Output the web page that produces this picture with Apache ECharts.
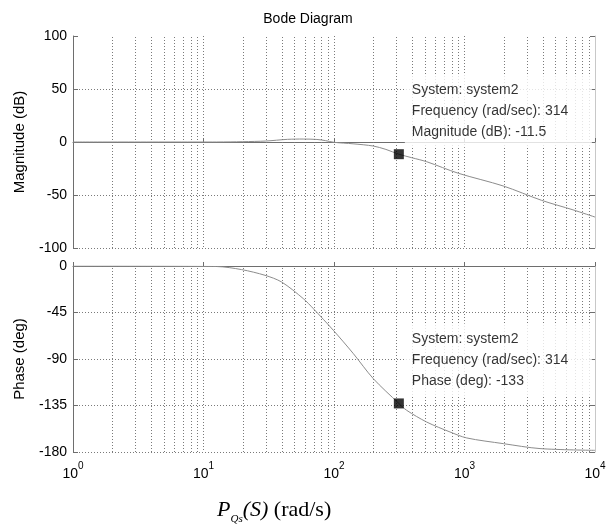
<!DOCTYPE html>
<html>
<head>
<meta charset="utf-8">
<script src="https://cdn.jsdelivr.net/npm/echarts@6/dist/echarts.min.js"></script>
<style>
  html, body { margin: 0; padding: 0; background: #fff; }
  #chart { width: 616px; height: 526px; }
</style>
</head>
<body>
<div id="chart"></div>
<script>
// values
const magFreq = [1, 12.6, 16, 20, 30, 44, 58, 74, 86, 100, 140, 200, 250, 314, 394, 513, 897, 1983, 3890, 6780, 10000];
const magDb = [0, 0, 0.1, 0.3, 0.9, 2.5, 2.8, 2.4, 1.3, -0.3, -1.7, -3.8, -7, -11.5, -14.8, -18.6, -29.5, -41.5, -55, -64, -70.8];
const phaseFreq = [1, 12.6, 19.6, 29.6, 39.7, 58.2, 69.5, 98.8, 140.7, 200, 314, 360, 513, 774, 1040, 1983, 3790, 10000];
const phaseDeg = [0, -0.5, -3.5, -9, -15.5, -31.6, -41.3, -62.2, -84.8, -109, -133, -139.6, -151, -160.6, -166.4, -171.9, -176.7, -178.4];

const tipFreq = 314;
const tipMag = -11.5;
const tipPhase = -133;

const decades = [1, 10, 100, 1000, 10000];
const minorSteps = [2, 3, 4, 5, 6, 7, 8, 9];
const magTicks = [-100, -50, 0, 50, 100];
const phaseTicks = [-180, -135, -90, -45, 0];

const minorLines = decades.slice(0, -1).flatMap(d => minorSteps.map(k => ({ xAxis: k * d })));

const sans = 'Liberation Sans';
const serif = 'Liberation Serif';
const txt = '#000';
const axisCol = '#6e6e6e';
const gridCol = '#7a7a7a';
const curveCol = '#8c8c8c';
const dots = [1, 2];

function xAxisCfg (grid, showLabels) {
  return {
    type: 'log',
    logBase: 10,
    gridIndex: grid,
    min: decades[0],
    max: decades[decades.length - 1],
    axisLine: { show: true, lineStyle: { color: axisCol, width: 1 } },
    axisTick: { show: true, inside: true, length: 4, lineStyle: { color: axisCol } },
    splitLine: { show: true, lineStyle: { color: gridCol, type: dots, width: 1 } },
    axisLabel: {
      show: showLabels,
      margin: 9,
      showMinLabel: true,
      showMaxLabel: true,
      formatter: v => '{b|10}{e|' + Math.round(Math.log10(v)) + '}',
      rich: {
        b: { fontSize: 14, fontFamily: sans, color: txt, lineHeight: 20, verticalAlign: 'bottom' },
        e: { fontSize: 10, fontFamily: sans, color: txt, lineHeight: 20, verticalAlign: 'top' }
      }
    }
  }
}

function yAxisCfg (grid, ticks, name, showTop) {
  return {
    type: 'value',
    gridIndex: grid,
    min: ticks[0],
    max: ticks[ticks.length - 1],
    interval: ticks[1] - ticks[0],
    name: name,
    nameLocation: 'middle',
    nameGap: 46,
    nameRotate: 90,
    nameTextStyle: { fontSize: 15, fontFamily: sans, color: txt },
    axisLine: { show: true, lineStyle: { color: axisCol, width: 1 } },
    axisTick: { show: true, inside: true, length: 5, lineStyle: { color: axisCol } },
    splitLine: { show: true, showMaxLine: showTop, lineStyle: { color: gridCol, type: dots, width: 1 } },
    axisLabel: { fontSize: 14, fontFamily: sans, color: txt, margin: 6 }
  }
}

function rightAxisCfg (grid, ticks) {
  return {
    type: 'value',
    gridIndex: grid,
    position: 'right',
    min: ticks[0],
    max: ticks[ticks.length - 1],
    interval: ticks[1] - ticks[0],
    axisLine: { show: true, lineStyle: { color: '#c8c8c8', width: 1 } },
    axisTick: { show: true, inside: true, length: 5, lineStyle: { color: axisCol } },
    splitLine: { show: false },
    axisLabel: { show: false }
  }
}

function tipLabel (lines) {
  return {
    show: true,
    position: [11, -75],
    formatter: lines.join('\n'),
    backgroundColor: '#fff',
    padding: [5, 8, 5, 7],
    width: 172,
    lineHeight: 21,
    fontSize: 14,
    fontFamily: sans,
    color: txt
  }
}

const chart = echarts.init(document.getElementById('chart'), null, { renderer: 'canvas' });

chart.setOption({
  animation: false,
  backgroundColor: '#fff',
  title: [
    {
      text: 'Bode Diagram',
      left: 'center',
      top: 7,
      textStyle: { fontSize: 14, fontWeight: 'normal', fontFamily: sans, color: txt }
    },
    {
      text: '{p|P}{s|Qs}{p|(S)}{r| (rad/s)}',
      left: 212,
      top: 494,
      textStyle: {
        fontWeight: 'normal',
        rich: {
          p: { fontSize: 22, fontStyle: 'italic', fontWeight: 'normal', fontFamily: serif, color: txt, lineHeight: 26, verticalAlign: 'top' },
          s: { fontSize: 11, fontStyle: 'italic', fontWeight: 'normal', fontFamily: serif, color: txt, lineHeight: 26, verticalAlign: 'bottom' },
          r: { fontSize: 22, fontWeight: 'normal', fontFamily: serif, color: txt, lineHeight: 26, verticalAlign: 'top' }
        }
      }
    }
  ],
  grid: [
    { left: 73, right: 21, top: 36, height: 212, outerBoundsMode: 'none' },
    { left: 73, right: 21, top: 266, height: 186, outerBoundsMode: 'none' }
  ],
  xAxis: [xAxisCfg(0, false), xAxisCfg(1, true)],
  yAxis: [
    yAxisCfg(0, magTicks, 'Magnitude (dB)', false),
    yAxisCfg(1, phaseTicks, 'Phase (deg)', true),
    rightAxisCfg(0, magTicks),
    rightAxisCfg(1, phaseTicks)
  ],
  series: [
    {
      type: 'line',
      xAxisIndex: 0,
      yAxisIndex: 0,
      z: 1,
      silent: true,
      data: [],
      markLine: {
        silent: true,
        symbol: 'none',
        label: { show: false },
        lineStyle: { color: gridCol, type: dots, width: 1 },
        data: minorLines
      }
    },
    {
      type: 'line',
      xAxisIndex: 1,
      yAxisIndex: 1,
      z: 1,
      silent: true,
      data: [],
      markLine: {
        silent: true,
        symbol: 'none',
        label: { show: false },
        lineStyle: { color: gridCol, type: dots, width: 1 },
        data: minorLines
      }
    },
    {
      name: 'Magnitude',
      type: 'line',
      xAxisIndex: 0,
      yAxisIndex: 0,
      z: 3,
      smooth: 0.3,
      showSymbol: false,
      lineStyle: { color: curveCol, width: 1 },
      data: magFreq.map((f, i) => [f, magDb[i]])
    },
    {
      name: 'Phase',
      type: 'line',
      xAxisIndex: 1,
      yAxisIndex: 1,
      z: 3,
      smooth: 0.3,
      showSymbol: false,
      lineStyle: { color: curveCol, width: 1 },
      data: phaseFreq.map((f, i) => [f, phaseDeg[i]])
    },
    {
      type: 'scatter',
      xAxisIndex: 0,
      yAxisIndex: 0,
      z: 10,
      symbol: 'rect',
      symbolSize: 10,
      itemStyle: { color: '#000' },
      label: tipLabel(['System: system2', 'Frequency (rad/sec): ' + tipFreq, 'Magnitude (dB): ' + tipMag]),
      data: [[tipFreq, tipMag]]
    },
    {
      type: 'scatter',
      xAxisIndex: 1,
      yAxisIndex: 1,
      z: 10,
      symbol: 'rect',
      symbolSize: 10,
      itemStyle: { color: '#000' },
      label: tipLabel(['System: system2', 'Frequency (rad/sec): ' + tipFreq, 'Phase (deg): ' + tipPhase]),
      data: [[tipFreq, tipPhase]]
    }
  ]
});
</script>
</body>
</html>
